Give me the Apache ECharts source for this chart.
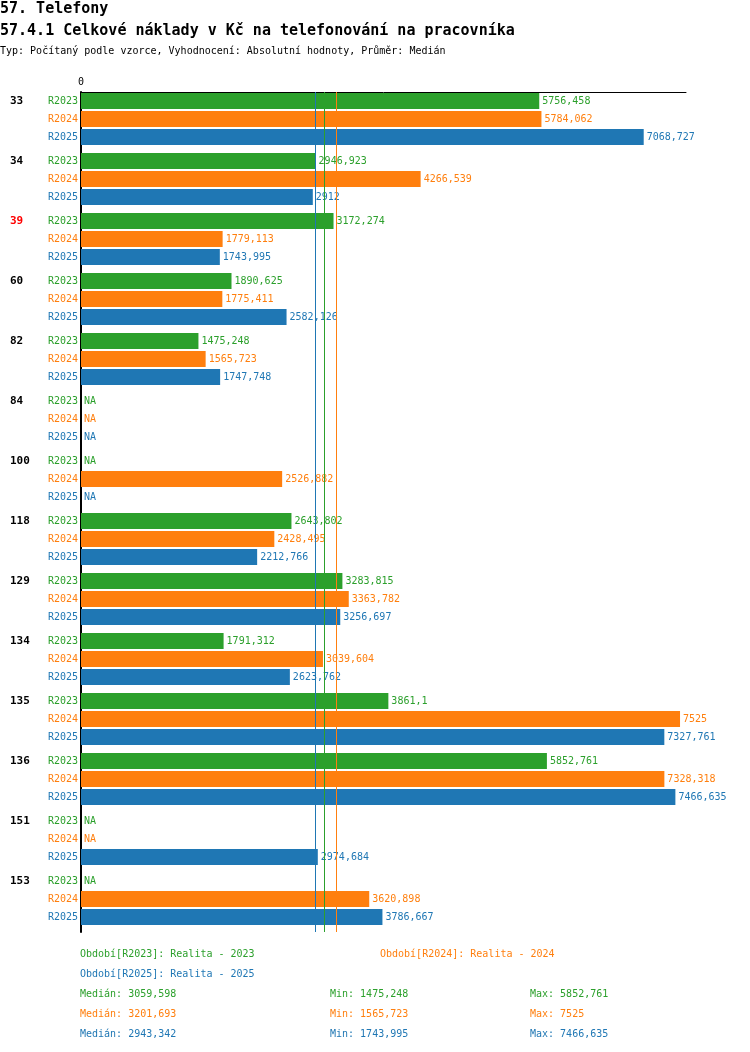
<!DOCTYPE html>
<html><head><meta charset="utf-8">
<script src="https://cdn.jsdelivr.net/npm/echarts@6/dist/echarts.min.js"></script>
<style>html,body{margin:0;padding:0;background:#fff}#c{width:750px;height:1052px}</style>
</head><body><div id="c"></div>
<script>
const categories = ['33','34','39','60','82','84','100','118','129','134','135','136','151','153'];
const highlighted = ['39'];
const periods = ['R2023','R2024','R2025'];
const periodNames = ['Realita - 2023','Realita - 2024','Realita - 2025'];
const r2023 = [5756.458, 2946.923, 3172.274, 1890.625, 1475.248, null, null, 2643.802, 3283.815, 1791.312, 3861.1, 5852.761, null, null];
const r2024 = [5784.062, 4266.539, 1779.113, 1775.411, 1565.723, null, 2526.882, 2428.495, 3363.782, 3039.604, 7525, 7328.318, null, 3620.898];
const r2025 = [7068.727, 2912, 1743.995, 2582.126, 1747.748, null, null, 2212.766, 3256.697, 2623.762, 7327.761, 7466.635, 2974.684, 3786.667];
const medians = [3059.598, 3201.693, 2943.342];
const mins = [1475.248, 1565.723, 1743.995];
const maxs = [5852.761, 7525, 7466.635];
const axisMax = 7600;
const colors = ['#2ca02c', '#ff7f0e', '#1f77b4'];
const F = '"DejaVu Sans Mono", monospace';
const fmt = v => String(v).replace('.', ',');

const seriesData = [r2023, r2024, r2025];
const series = seriesData.map((arr, si) => ({
  type: 'bar', name: periods[si], barWidth: 16, barGap: '12.5%',
  data: arr.map(v => v == null ? 0 : v),
  itemStyle: { color: colors[si] },
  label: {
    show: true, position: 'right', distance: 3, color: colors[si], fontSize: 10, fontFamily: F,
    formatter: p => arr[p.dataIndex] == null ? 'NA' : fmt(arr[p.dataIndex])
  },
  markLine: {
    silent: true, symbol: 'none', label: { show: false },
    lineStyle: { color: colors[si], width: 1, type: 'solid' },
    data: [{ xAxis: medians[si] }]
  }
}));
series.push({ type: 'bar', name: 'spacer', barWidth: 4, barGap: '12.5%', data: [], silent: true });

const rich = {
  n: { width: 38, align: 'left', fontWeight: 'bold', fontSize: 11, color: '#000', lineHeight: 18, fontFamily: F },
  h: { width: 38, align: 'left', fontWeight: 'bold', fontSize: 11, color: '#ff0000', lineHeight: 18, fontFamily: F }
};
periods.forEach((p, i) => {
  rich['p' + i] = { align: 'right', fontSize: 10, color: colors[i], lineHeight: 18, fontFamily: F };
});

const graphic = [];
const legendPos = [[80, 954], [380, 954], [80, 974]];
periods.forEach((p, i) => {
  graphic.push({ type: 'text', x: legendPos[i][0], y: legendPos[i][1], silent: true,
    style: { text: 'Období[' + p + ']: ' + periodNames[i], fill: colors[i], font: '10px ' + F, verticalAlign: 'middle' } });
});
periods.forEach((p, i) => {
  const y = 994 + i * 20;
  graphic.push({ type: 'text', x: 80, y: y, silent: true, style: { text: 'Medián: ' + fmt(medians[i]), fill: colors[i], font: '10px ' + F, verticalAlign: 'middle' } });
  graphic.push({ type: 'text', x: 330, y: y, silent: true, style: { text: 'Min: ' + fmt(mins[i]), fill: colors[i], font: '10px ' + F, verticalAlign: 'middle' } });
  graphic.push({ type: 'text', x: 530, y: y, silent: true, style: { text: 'Max: ' + fmt(maxs[i]), fill: colors[i], font: '10px ' + F, verticalAlign: 'middle' } });
});

const chart = echarts.init(document.getElementById('c'));
chart.setOption({
  animation: false,
  backgroundColor: '#fff',
  textStyle: { fontFamily: F },
  title: [
    { text: '57. Telefony', left: 0, top: 2, padding: 0, textStyle: { fontFamily: F, fontSize: 15, fontWeight: 'bold', color: '#000' } },
    { text: '57.4.1 Celkové náklady v Kč na telefonování na pracovníka', left: 0, top: 24, padding: 0, textStyle: { fontFamily: F, fontSize: 15, fontWeight: 'bold', color: '#000' } },
    { text: 'Typ: Počítaný podle vzorce, Vyhodnocení: Absolutní hodnoty, Průměr: Medián', left: 0, top: 46, padding: 0, textStyle: { fontFamily: F, fontSize: 10, fontWeight: 'normal', color: '#000' } }
  ],
  grid: { left: 81, top: 92, width: 605, height: 840, containLabel: false },
  xAxis: {
    type: 'value', position: 'top', min: 0, max: axisMax, interval: axisMax,
    axisLine: { show: true, lineStyle: { color: '#000', width: 1 } },
    axisTick: { show: false }, splitLine: { show: false },
    axisLabel: { margin: 5, fontSize: 10, color: '#000', fontFamily: F, formatter: v => v === 0 ? '0' : '' }
  },
  yAxis: {
    type: 'category', inverse: true, data: categories,
    axisLine: { show: true, lineStyle: { color: '#000', width: 2 } },
    axisTick: { show: false }, splitLine: { show: false },
    axisLabel: {
      interval: 0, margin: 3, padding: [0, 0, 6, 0],
      formatter: v => '{' + (highlighted.includes(v) ? 'h' : 'n') + '|' + v + '}' +
        periods.map((p, i) => '{p' + i + '|' + p + '}').join('\n'),
      rich: rich
    }
  },
  series: series,
  graphic: graphic
});
</script></body></html>
